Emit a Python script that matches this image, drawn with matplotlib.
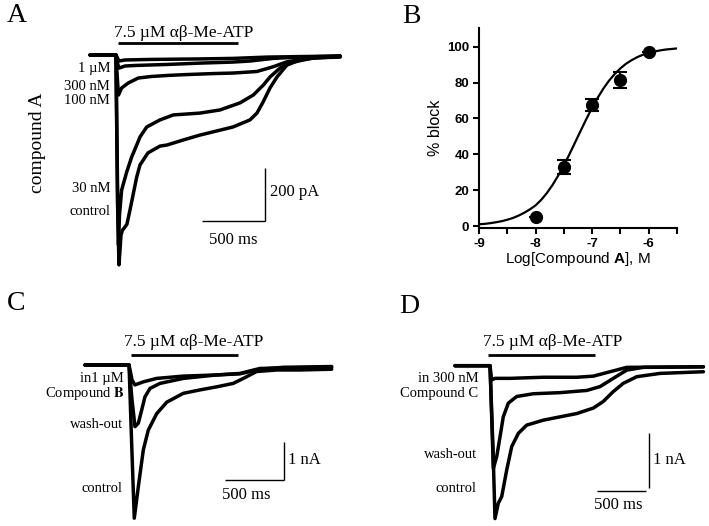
import numpy as np
import matplotlib
matplotlib.use("Agg")
import matplotlib.pyplot as plt

plt.rcParams['font.family'] = ['Liberation Serif', 'DejaVu Serif']
plt.rcParams['axes.unicode_minus'] = False
plt.rcParams['mathtext.fontset'] = 'custom'
plt.rcParams['mathtext.rm'] = 'Liberation Sans'
plt.rcParams['mathtext.bf'] = 'Liberation Sans:bold'

###########################
# data

# panel A: currents in compound A (time in ms, current in pA)
a_control_t = [-210, -6, 6, 18, 34, 46, 66, 81, 105, 129, 158, 184, 210, 247, 287, 342, 397, 523, 657, 792, 918, 1052, 1107, 1155, 1210, 1265, 1344, 1447, 1581, 1763]
a_control_i = [0, 0, -554, -802, -688, -669, -657, -646, -592, -535, -466, -420, -401, -374, -363, -348, -344, -325, -306, -290, -275, -248, -222, -180, -126, -84, -38, -19, -10, -4]
a_30nm_t = [-210, -6, 6, 14, 22, 39, 79, 118, 158, 184, 237, 342, 447, 657, 815, 973, 1078, 1157, 1210, 1289, 1394, 1552, 1763]
a_30nm_i = [0, 0, -478, -726, -612, -516, -447, -390, -344, -313, -275, -248, -229, -222, -210, -183, -153, -115, -84, -50, -27, -11, -8]
a_100nm_t = [-210, -6, 6, 14, 39, 91, 170, 276, 407, 539, 760, 918, 1107, 1234, 1344, 1502, 1763]
a_100nm_i = [0, 0, -96, -153, -126, -107, -88, -82, -78, -75, -71, -69, -63, -45, -26, -13, -6]
a_300nm_t = [-210, -6, 6, 18, 66, 145, 405, 657, 918, 1052, 1234, 1447, 1763]
a_300nm_i = [0, 0, -31, -50, -42, -40, -36, -31, -27, -23, -13, -8, -4]
a_1um_t = [-210, -6, 6, 18, 66, 263, 657, 918, 1186, 1447, 1763]
a_1um_i = [0, 0, -11, -23, -19, -17, -15, -13, -8, -6, -4]
a_labels = ['1 µM', '300 nM', '100 nM', '30 nM', 'control']

# panel B: concentration-response for compound A
b_log_conc = [-8, -7.5, -7, -6.5, -6]
b_block = [5, 33, 67.5, 81.5, 97]
b_sem = [0, 4, 3.5, 4.5, 0]
b_fit_x = [round(-9 + 0.1 * k, 1) for k in range(36)]
b_fit_block = [1.0, 1.2, 1.6, 2.1, 2.7, 3.5, 4.5, 5.8, 7.4, 9.3, 11.5, 14.6, 18.4, 22.9, 28.1, 33.8,
               40.1, 46.7, 53.3, 59.8, 66.0, 71.6, 76.7, 81.1, 84.8, 87.9, 90.5, 92.5, 94.2, 95.5,
               96.5, 97.3, 97.9, 98.4, 98.7, 99.0]

# panel C: compound B (time in ms, current in nA)
c_control_t = [-379, -8, 13, 36, 70, 112, 154, 225, 310, 449, 590, 730, 870, 955, 1067, 1236, 1432, 1699]
c_control_i = [0, 0, -1.96, -4.00, -3.18, -2.22, -1.70, -1.27, -0.97, -0.74, -0.65, -0.57, -0.48, -0.35, -0.17, -0.13, -0.13, -0.11]
c_wash_t = [-379, -8, 17, 42, 70, 99, 126, 169, 253, 449, 730, 927, 1095, 1432, 1699]
c_wash_i = [0, 0, -0.91, -1.61, -1.52, -1.17, -0.83, -0.61, -0.48, -0.35, -0.26, -0.22, -0.09, -0.07, -0.06]
c_drug_t = [-379, -8, 17, 42, 112, 225, 449, 730, 927, 1095, 1292, 1699]
c_drug_i = [0, 0, -0.39, -0.52, -0.44, -0.35, -0.29, -0.26, -0.23, -0.11, -0.06, -0.04]

# panel D: compound C (time in ms, current in nA)
d_control_t = [-370, -10, 21, 41, 75, 110, 161, 213, 281, 367, 538, 709, 881, 1052, 1154, 1257, 1360, 1498, 1737, 2183]
d_control_i = [0, 0, -1.53, -2.78, -2.50, -2.38, -1.90, -1.47, -1.23, -1.08, -0.99, -0.93, -0.87, -0.77, -0.65, -0.47, -0.32, -0.20, -0.14, -0.11]
d_wash_t = [-370, -10, 24, 59, 93, 126, 178, 264, 435, 709, 984, 1121, 1257, 1395, 1566, 2183]
d_wash_i = [0, 0, -1.87, -1.65, -1.29, -0.93, -0.68, -0.56, -0.51, -0.49, -0.45, -0.38, -0.23, -0.08, -0.03, -0.02]
d_drug_t = [-370, -10, 7, 41, 195, 538, 881, 1052, 1223, 1395, 2183]
d_drug_i = [0, 0, -0.26, -0.23, -0.23, -0.21, -0.21, -0.19, -0.11, -0.03, -0.02]

agonist = '7.5 µM αβ-Me-ATP'

###########################
# layout helpers (pixel positions of the 709x526 figure)
W, H = 709, 526
fig = plt.figure(figsize=(W / 100, H / 100), dpi=100)


def trace_axes(box, x_onset, y_base, px_per_ms, px_per_unit):
    x0, y0, x1, y1 = box
    ax = fig.add_axes([x0 / W, 1 - y1 / H, (x1 - x0) / W, (y1 - y0) / H])
    ax.set_xlim((x0 - x_onset) / px_per_ms, (x1 - x_onset) / px_per_ms)
    ax.set_ylim(-(y1 - y_base) / px_per_unit, -(y0 - y_base) / px_per_unit)
    ax.axis('off')
    return ax


def ftext(x, y, s, **kw):
    kw.setdefault('va', 'center')
    return fig.text(x / W, 1 - y / H, s, **kw)


def trace(ax, t, i):
    ax.plot(t, i, color='black', lw=2.5, solid_joinstyle='round', solid_capstyle='round', clip_on=False)


def line(ax, x, y, lw=1.0):
    ax.plot(x, y, color='black', lw=lw, solid_capstyle='butt', clip_on=False)


###########################
# panel A
ax_a = trace_axes((60, 20, 360, 280), 116.7, 55, 0.1267, 0.2617)
for t, i in [(a_1um_t, a_1um_i), (a_300nm_t, a_300nm_i), (a_100nm_t, a_100nm_i),
             (a_30nm_t, a_30nm_i), (a_control_t, a_control_i)]:
    trace(ax_a, t, i)
line(ax_a, [13, 960], [44.7, 44.7], lw=2)
line(ax_a, [670, 1170], [-633, -633])
line(ax_a, [1170, 1170], [-633, -433])

ftext(7, 16, 'A', fontsize=20)
ftext(184, 33, agonist, fontsize=12.5, ha='center')
ftext(37, 143, 'compound A', fontsize=14, rotation=90, ha='center')
for lab, y in zip(a_labels, [68.3, 86, 100, 188.3, 211.7]):
    ftext(110, y, lab, fontsize=10.5, ha='right')
ftext(270, 191.7, '200 pA', fontsize=12)
ftext(233, 240, '500 ms', fontsize=12, ha='center')

###########################
# panel B
ax_b = fig.add_axes([479 / W, 1 - 228 / H, 198 / W, 200 / H])
ax_b.plot(b_fit_x, b_fit_block, color='black', lw=1.6)
ax_b.errorbar(b_log_conc, b_block, yerr=b_sem, fmt='o', color='black', ms=8.5,
              elinewidth=1.5, capsize=5, capthick=1.5)
ax_b.set_xlim(-9, -5.5)
ax_b.set_ylim(-1.1, 110.4)
ax_b.set_xticks([-9, -8, -7, -6])
ax_b.set_xticks([-8.5, -7.5, -6.5, -5.5], minor=True)
ax_b.set_yticks([0, 20, 40, 60, 80, 100])
for s in ['top', 'right']:
    ax_b.spines[s].set_visible(False)
for s in ['left', 'bottom']:
    ax_b.spines[s].set_linewidth(1.5)
ax_b.tick_params(which='both', direction='out', length=4, width=1.5, pad=3)
for lab in ax_b.get_xticklabels() + ax_b.get_yticklabels():
    lab.set_fontfamily('Liberation Sans')
    lab.set_fontweight('bold')
    lab.set_fontsize(9.5)
ax_b.set_ylabel('% block', fontfamily='Liberation Sans', fontsize=11.5, labelpad=3)
ax_b.set_xlabel(r'Log[Compound $\mathbf{A}$], M', fontfamily='Liberation Sans', fontsize=11, labelpad=0)
ftext(402, 16.5, 'B', fontsize=20)

###########################
# panel C
ax_c = trace_axes((60, 320, 360, 526), 130, 365, 0.1187, 38.3)
for t, i in [(c_drug_t, c_drug_i), (c_wash_t, c_wash_i), (c_control_t, c_control_i)]:
    trace(ax_c, t, i)
line(ax_c, [8, 913], [0.26, 0.26], lw=2)
line(ax_c, [800, 1300], [-3.0, -3.0])
line(ax_c, [1300, 1300], [-3.0, -2.0])

ftext(7, 303.5, 'C', fontsize=20)
ftext(193.3, 341.7, agonist, fontsize=12.5, ha='center')
ftext(123.5, 378.3, 'in1 µM', fontsize=10.5, ha='right')
ftext(124.3, 393.3, r'Compound $\mathbf{B}$', fontsize=10.5, ha='right', math_fontfamily='stix')
ftext(123.3, 425, 'wash-out', fontsize=10.5, ha='right')
ftext(122.7, 488.3, 'control', fontsize=10.5, ha='right')
ftext(288, 460, '1 nA', fontsize=12)
ftext(246.7, 495, '500 ms', fontsize=12, ha='center')

###########################
# panel D
ax_d = trace_axes((430, 320, 709, 526), 491, 365.7, 0.0973, 55)
for t, i in [(d_drug_t, d_drug_i), (d_wash_t, d_wash_i), (d_control_t, d_control_i)]:
    trace(ax_d, t, i)
line(ax_d, [-30, 1070], [0.195, 0.195], lw=2)
line(ax_d, [1092, 1592], [-2.27, -2.27])
line(ax_d, [1627, 1627], [-2.23, -1.23])

ftext(399, 306.5, 'D', fontsize=20)
ftext(552.5, 341.7, agonist, fontsize=12.5, ha='center')
ftext(478.3, 378.3, 'in 300 nM', fontsize=10.5, ha='right')
ftext(478.3, 393.3, 'Compound C', fontsize=10.5, ha='right')
ftext(476.7, 455, 'wash-out', fontsize=10.5, ha='right')
ftext(476.7, 488.3, 'control', fontsize=10.5, ha='right')
ftext(653.3, 460, '1 nA', fontsize=12)
ftext(618.3, 505, '500 ms', fontsize=12, ha='center')

fig.savefig('out.png', dpi=100)
